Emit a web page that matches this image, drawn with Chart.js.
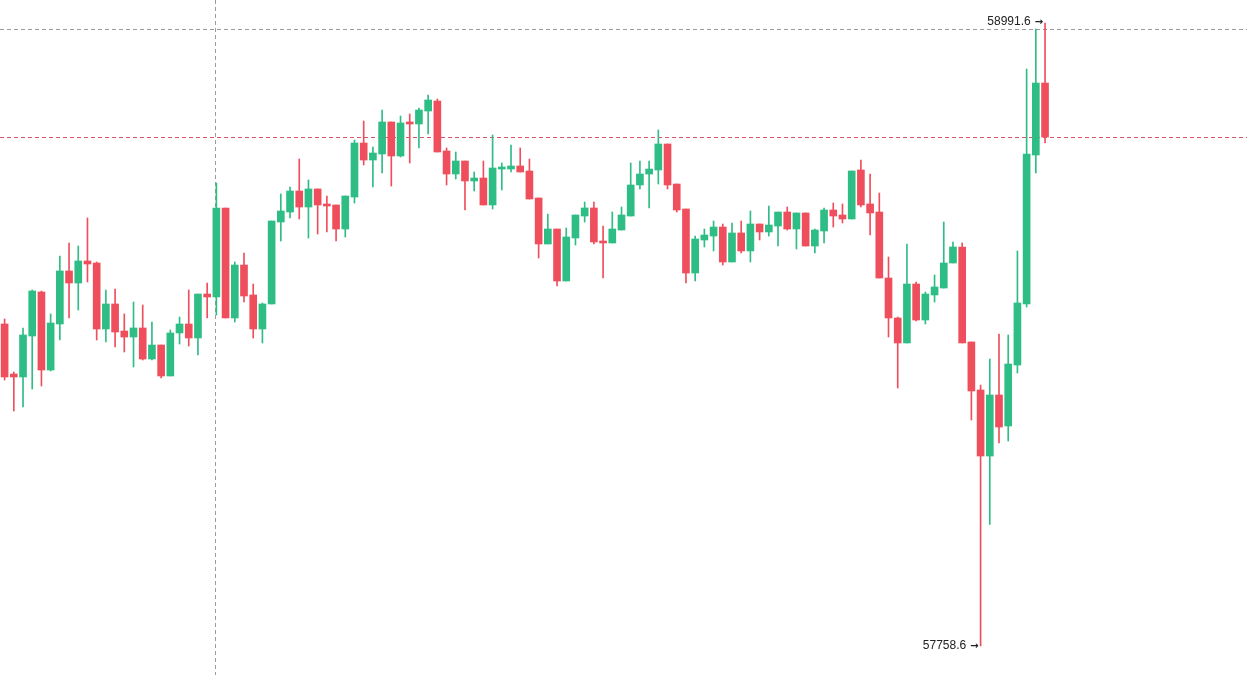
<!DOCTYPE html>
<html>
<head>
<meta charset="utf-8">
<script src="https://cdn.jsdelivr.net/npm/chart.js@4.4.1/dist/chart.umd.min.js"></script>
<style>
  html, body { margin: 0; padding: 0; background: #ffffff; }
  #wrap { width: 1247px; height: 675px; position: relative; }
</style>
</head>
<body>
<div id="wrap"><canvas id="klineChart"></canvas></div>
<script>
(function () {
    "use strict";

    // OHLC values, one entry per candle (left to right)
    const opens = [58395.9,58296.9,58291.0,58372.1,58459.2,58304.8,58395.9,58500.8,58477.0,58520.6,
        58516.6,58386.0,58435.5,58382.0,58370.1,58388.0,58326.6,58354.3,58293.0,58378.1,
        58395.9,58368.2,58455.2,58449.3,58625.5,58407.8,58512.6,58453.3,58386.0,58435.5,
        58597.7,58617.5,58659.1,58627.4,58663.1,58633.4,58631.4,58583.9,58647.2,58754.1,
        58720.4,58732.3,58795.7,58728.4,58795.7,58791.7,58817.4,58837.2,58738.3,58692.7,
        58718.5,58678.9,58684.8,58631.4,58702.6,58702.6,58708.6,58698.7,58645.2,58554.2,
        58583.9,58481.0,58566.1,58609.6,58625.5,58560.1,58556.2,58581.9,58609.6,58671.0,
        58692.7,58700.7,58752.1,58672.9,58623.5,58496.8,58562.1,58570.0,58587.8,58518.6,
        58576.0,58540.4,58593.8,58578.0,58589.8,58617.5,58583.9,58615.6,58550.2,58579.9,
        58621.5,58611.6,58603.7,58700.7,58633.4,58617.5,58486.9,58407.8,58358.3,58475.0,
        58403.8,58453.3,58467.1,58516.6,58548.3,58360.3,58265.3,58134.6,58255.4,58194.0,
        58314.7,58435.5,58730.3,58872.8];
    const closes = [58291.0,58291.0,58374.1,58461.2,58304.8,58397.9,58500.8,58477.0,58520.6,58514.6,
        58386.0,58435.5,58380.0,58370.1,58388.0,58326.6,58354.3,58293.0,58378.1,58395.9,
        58368.2,58455.2,58449.3,58625.5,58407.8,58512.6,58451.3,58386.0,58435.5,58599.7,
        58619.5,58659.1,58627.4,58663.1,58631.4,58629.4,58583.9,58649.2,58754.1,58720.4,
        58734.3,58795.7,58728.4,58793.7,58791.7,58819.4,58839.2,58736.3,58692.7,58718.5,
        58678.9,58684.8,58631.4,58704.6,58706.6,58708.6,58696.7,58643.3,58554.2,58583.9,
        58481.0,58568.1,58611.6,58625.5,58558.2,58556.2,58583.9,58611.6,58671.0,58692.7,
        58702.6,58752.1,58671.0,58621.5,58496.8,58564.1,58572.0,58587.8,58518.6,58576.0,
        58540.4,58593.8,58578.0,58591.8,58617.5,58583.9,58615.6,58550.2,58581.9,58621.5,
        58609.6,58603.7,58698.7,58631.4,58615.6,58486.9,58407.8,58358.3,58475.0,58403.8,
        58455.2,58469.1,58516.6,58548.3,58358.3,58263.3,58134.6,58255.4,58192.0,58316.7,
        58437.4,58732.3,58872.8,58766.0];
    const highs = [58405.8,58300.9,58388.0,58463.2,58461.2,58415.7,58530.5,58556.2,58550.2,58605.7,
        58518.6,58463.2,58465.1,58415.7,58439.4,58433.5,58399.8,58354.3,58384.0,58409.7,
        58463.2,58455.2,58477.0,58674.9,58625.5,58518.6,58536.4,58475.0,58437.4,58599.7,
        58653.2,58667.0,58722.4,58680.9,58663.1,58649.2,58631.4,58649.2,58760.0,58797.6,
        58746.2,58819.4,58795.7,58807.5,58811.5,58823.4,58849.1,58841.2,58744.2,58736.3,
        58718.5,58696.7,58718.5,58769.9,58714.5,58750.1,58744.2,58722.4,58645.2,58613.6,
        58583.9,58585.9,58611.6,58637.3,58637.3,58589.8,58617.5,58627.4,58714.5,58718.5,
        58718.5,58779.8,58752.1,58672.9,58623.5,58570.0,58583.9,58599.7,58593.8,58595.8,
        58599.7,58619.5,58593.8,58629.4,58617.5,58627.4,58615.6,58615.6,58583.9,58625.5,
        58635.3,58633.4,58698.7,58720.4,58692.7,58655.1,58528.5,58409.7,58554.2,58479.0,
        58459.2,58492.9,58597.7,58558.2,58556.2,58360.3,58275.2,58326.6,58376.1,58374.1,
        58540.4,58900.5,58979.7,58991.6];
    const lows = [58285.0,58223.7,58231.6,58267.2,58273.2,58302.9,58364.2,58407.8,58423.6,58479.0,
        58364.2,58360.3,58350.4,58340.5,58310.8,58324.6,58324.6,58289.0,58293.0,58356.3,
        58352.3,58334.5,58407.8,58413.7,58407.8,58399.8,58439.4,58368.2,58358.3,58435.5,
        58560.1,58605.7,58603.7,58566.1,58574.0,58578.0,58560.1,58568.1,58635.3,58710.6,
        58667.0,58694.7,58669.0,58726.4,58714.5,58744.2,58771.9,58736.3,58671.0,58682.8,
        58621.5,58659.1,58631.4,58623.5,58661.1,58696.7,58696.7,58643.3,58526.5,58554.2,
        58471.1,58481.0,58552.2,58597.7,58554.2,58486.9,58556.2,58581.9,58609.6,58663.1,
        58625.5,58672.9,58663.1,58617.5,58477.0,58481.0,58548.3,58540.4,58512.6,58518.6,
        58536.4,58518.6,58562.1,58570.0,58550.2,58581.9,58544.3,58550.2,58536.4,58556.2,
        58587.8,58595.8,58603.7,58627.4,58572.0,58486.9,58370.1,58269.2,58358.3,58401.8,
        58395.9,58439.4,58467.1,58516.6,58358.3,58205.9,57758.6,57999.1,58160.4,58164.3,
        58298.9,58429.5,58694.7,58754.1];

    // the time axis runs on past the last candle (empty slots on the right)
    const slotCount = 135;
    const slots = Array.from({ length: slotCount }, (_, i) => String(i));

    // markers seen on the chart
    const highLabel = "58991.6";
    const lowLabel = "57758.6";
    const lastPrice = 58766.0;
    const crossPrice = 58979.7;
    const crossSlot = 23;

    const UP = "#2ebd85";
    const DOWN = "#ef4f5c";

    const colors = opens.map((o, i) => (closes[i] >= o ? UP : DOWN));
    const bodies = opens.map((o, i) => [o, closes[i]]);
    const wicks = lows.map((l, i) => [l, highs[i]]);

    function hline(ctx, w, py) {
        ctx.beginPath(); ctx.moveTo(0, py); ctx.lineTo(w, py); ctx.stroke();
    }

    function priceTag(ctx, text, px, py) {
        // arrow first, then the number to its left
        ctx.font = "bold 10px 'DejaVu Sans', sans-serif";
        ctx.fillText("\u2192", px - 2, py);
        const aw = ctx.measureText("\u2192").width;
        ctx.font = "12px 'Liberation Sans', Arial, sans-serif";
        ctx.fillText(text, px - 2 - aw - 4, py);
    }

    const overlay = {
        id: "overlay",
        beforeDatasetsDraw(chart) {
            const { ctx, scales } = chart;
            const x = scales.x, y = scales.y;
            ctx.save();
            ctx.lineWidth = 1;
            ctx.setLineDash([4, 3]);
            // crosshair
            ctx.strokeStyle = "rgba(130,130,130,0.8)";
            hline(ctx, chart.width, Math.round(y.getPixelForValue(crossPrice)) + 0.5);
            const cx = Math.round(x.getPixelForValue(crossSlot)) - 0.5;
            ctx.beginPath(); ctx.moveTo(cx, 0); ctx.lineTo(cx, chart.height); ctx.stroke();
            // last price line
            ctx.strokeStyle = "#d9566c";
            hline(ctx, chart.width, Math.round(y.getPixelForValue(lastPrice)) + 0.5);
            ctx.restore();
        },
        afterDatasetsDraw(chart) {
            const { ctx, scales } = chart;
            const x = scales.x, y = scales.y;
            const hi = highs.indexOf(Math.max(...highs));
            const lo = lows.indexOf(Math.min(...lows));
            ctx.save();
            ctx.fillStyle = "#222";
            ctx.textAlign = "right";
            ctx.textBaseline = "middle";
            priceTag(ctx, highLabel, x.getPixelForValue(hi), y.getPixelForValue(highs[hi]) - 1);
            priceTag(ctx, lowLabel, x.getPixelForValue(lo), y.getPixelForValue(lows[lo]));
            ctx.restore();
        }
    };

    const ctx = document.getElementById("klineChart").getContext("2d");
    new Chart(ctx, {
        type: "bar",
        data: {
            labels: slots,
            datasets: [
                {
                    label: "wick",
                    data: wicks,
                    backgroundColor: colors,
                    barThickness: 1,
                    grouped: false,
                    order: 2
                },
                {
                    label: "body",
                    data: bodies,
                    backgroundColor: colors,
                    barThickness: 7,
                    minBarLength: 2,
                    grouped: false,
                    order: 1
                }
            ]
        },
        options: {
            responsive: true,
            maintainAspectRatio: false,
            animation: false,
            layout: { padding: { left: 0, right: 4, top: 0, bottom: 0 } },
            plugins: { legend: { display: false }, tooltip: { enabled: false } },
            scales: {
                x: { display: false, grid: { display: false } },
                y: { display: false, min: 57701.2, max: 59037.1, grid: { display: false } }
            }
        },
        plugins: [overlay]
    });
})();
</script>
</body>
</html>
